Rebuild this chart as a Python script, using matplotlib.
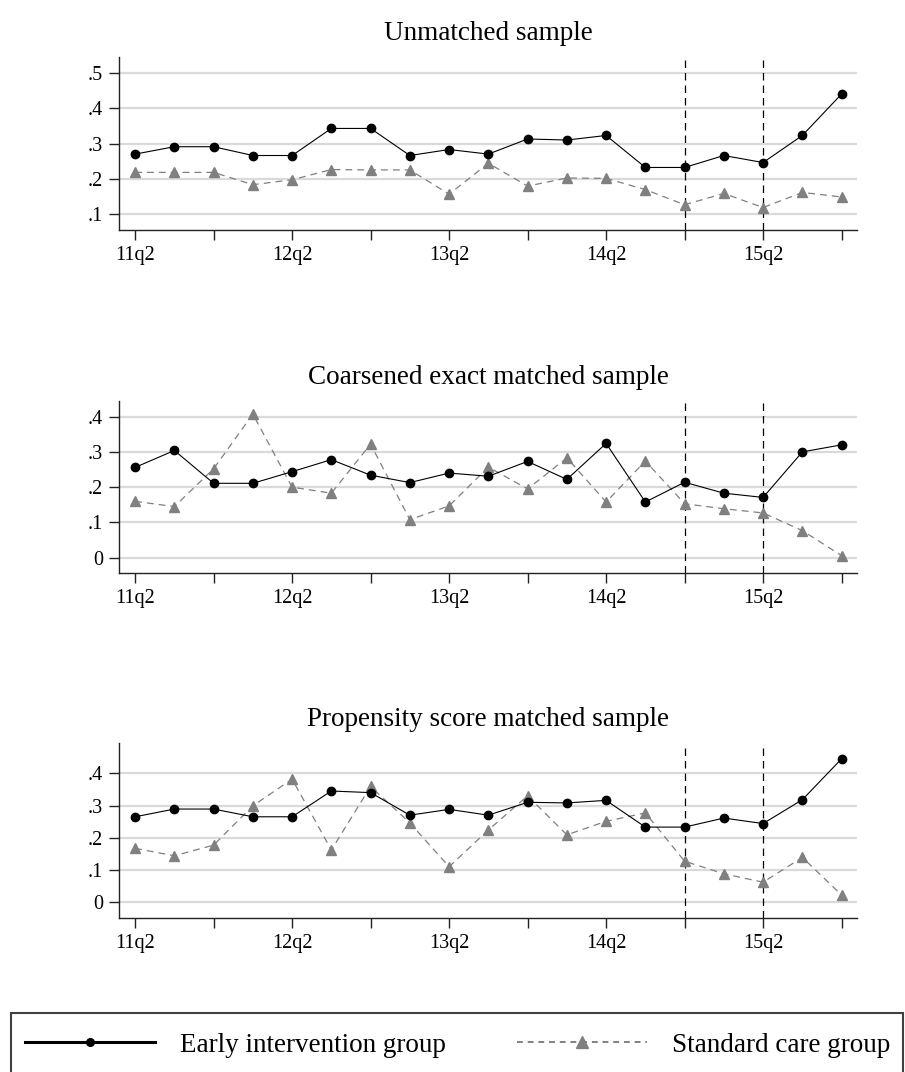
import matplotlib.pyplot as plt
from matplotlib.lines import Line2D
from matplotlib.patches import Rectangle

plt.rcParams['font.family'] = ['Liberation Serif', 'DejaVu Serif']

quarters = ['11q2', '11q3', '11q4', '12q1', '12q2', '12q3', '12q4', '13q1',
            '13q2', '13q3', '13q4', '14q1', '14q2', '14q3', '14q4', '15q1',
            '15q2', '15q3', '15q4']
labelled_quarters = ['11q2', '12q2', '13q2', '14q2', '15q2']
policy_quarters = ['14q4', '15q2']

titles = ['Unmatched sample',
          'Coarsened exact matched sample',
          'Propensity score matched sample']

# quarterly shares, early intervention vs standard care
early_unmatched = [.270, .291, .291, .266, .266, .343, .343, .266, .283, .270,
                   .313, .310, .323, .232, .232, .266, .246, .323, .441]
standard_unmatched = [.218, .218, .218, .183, .197, .226, .225, .225, .156, .244,
                      .179, .202, .201, .169, .126, .158, .118, .161, .148]

early_cem = [.256, .304, .211, .211, .244, .278, .234, .213, .240, .231,
             .273, .222, .324, .158, .214, .183, .171, .300, .320]
standard_cem = [.160, .145, .252, .407, .200, .183, .322, .108, .147, .257,
                .195, .283, .158, .274, .153, .139, .127, .077, .006]

early_psm = [.265, .289, .289, .265, .265, .345, .340, .270, .288, .270,
             .310, .308, .316, .233, .233, .261, .244, .318, .445]
standard_psm = [.167, .144, .177, .299, .382, .162, .359, .246, .110, .224,
                .330, .209, .251, .277, .127, .088, .062, .139, .022]

early = [early_unmatched, early_cem, early_psm]
standard = [standard_unmatched, standard_cem, standard_psm]

yticks = [[.1, .2, .3, .4, .5], [0, .1, .2, .3, .4], [0, .1, .2, .3, .4]]
ylims = [(0.054, 0.547), (-0.044, 0.445), (-0.050, 0.495)]


def fmt_tick(v):
    if v == 0:
        return '0'
    return ('%.1f' % v).lstrip('0')


W, H = 905, 1072
fig = plt.figure(figsize=(W / 100, H / 100), dpi=100)

# axes boxes (left, bottom, width, height) in figure fractions
boxes = [(0.1315, 0.7854, 0.8158, 0.1617),
         (0.1315, 0.4652, 0.8158, 0.1610),
         (0.1315, 0.1434, 0.8158, 0.1638)]

x = list(range(len(quarters)))

for i, box in enumerate(boxes):
    ax = fig.add_axes(box)
    for v in yticks[i]:
        ax.axhline(v, color='#dadada', lw=1.6, zorder=0)
    for q in policy_quarters:
        ax.axvline(quarters.index(q), color='black', lw=0.9,
                   dashes=(6, 4), zorder=1)

    ax.plot(x, standard[i], color='#808080', lw=0.9, dashes=(5.5, 4),
            marker='^', ms=6.8, zorder=2)
    ax.plot(x, early[i], color='black', lw=0.8, marker='o', ms=6.0,
            zorder=3)

    ax.set_xlim(-0.41, 18.4)
    ax.set_ylim(*ylims[i])
    ax.set_yticks(yticks[i])
    ax.set_yticklabels([fmt_tick(v) for v in yticks[i]])
    ax.set_xticks(x[::2])
    ax.set_xticklabels([q if q in labelled_quarters else '' for q in quarters[::2]])

    for side in ['top', 'right']:
        ax.spines[side].set_visible(False)
    for side in ['left', 'bottom']:
        ax.spines[side].set_linewidth(1.0)
        ax.spines[side].set_color('#222222')
    ax.tick_params(axis='both', length=7.5, width=1.0, color='#222222',
                   labelsize=14.5, pad=4)
    ax.set_title(titles[i], fontsize=19.5, pad=12)

# legend box runs off the bottom of the figure
fig.patches.append(Rectangle((11 / W, -0.01), 892 / W, (H - 1012.7) / H + 0.01,
                             transform=fig.transFigure, fill=False,
                             edgecolor='#404040', linewidth=1.5))

handles = [Line2D([], [], color='black', lw=2.2, marker='o', ms=5.5),
           Line2D([], [], color='#808080', lw=1.4, dashes=(3, 2.5),
                  marker='^', ms=8)]
fig.legend(handles, ['Early intervention group', 'Standard care group'],
           loc='upper left', bbox_to_anchor=(11 / W, 1 - 1018.7 / H),
           ncol=2, frameon=False, fontsize=19.5, handlelength=4.8,
           handletextpad=0.93, columnspacing=2.6, borderpad=0.52,
           borderaxespad=0)

fig.savefig('out.png', dpi=100)
